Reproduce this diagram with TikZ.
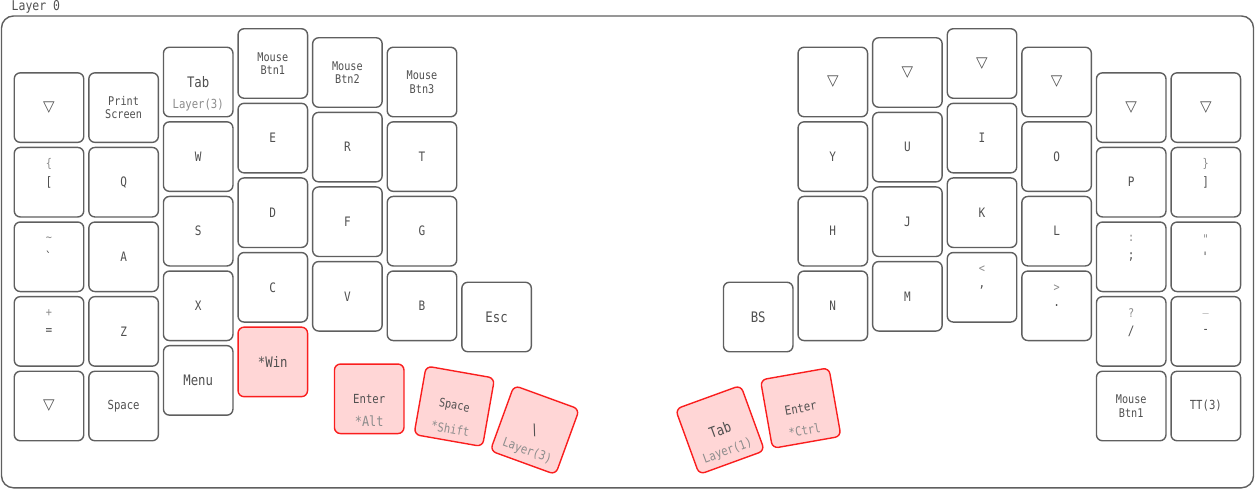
\documentclass[tikz,border=0pt]{standalone}
\usepackage{fontspec}
\setmonofont[FakeStretch=0.85]{DejaVu Sans Mono}
\newfontfamily\trifont{DejaVu Sans}
\usetikzlibrary{positioning}
\usetikzlibrary{calc}

\definecolor{keyline}{RGB}{95,95,95}
\definecolor{tapcol}{RGB}{80,80,80}
\definecolor{legcol}{RGB}{140,140,140}
\definecolor{heldline}{RGB}{250,30,30}
\definecolor{heldfill}{RGB}{255,214,214}

\newcommand{\kfont}[1]{\ttfamily\fontsize{#1}{13.5pt}\selectfont}
\newcommand{\tdown}{{\trifont\fontsize{15pt}{15pt}\selectfont\char"25BD}}

\begin{document}
\begin{tikzpicture}[x=1pt,y=-1pt,node distance=74.6pt,
      key/.style={draw=keyline,fill=white,line width=1.4pt,rounded corners=6pt,minimum size=69.5pt,inner sep=0pt,text=tapcol,align=center,font=\kfont{13}},
      held/.style={key,draw=heldline,fill=heldfill},
      big/.style={font=\kfont{14.5}},
      five/.style={font=\kfont{12.5}},
      two/.style={font=\kfont{12}},
      legend/.style={text=legcol,inner sep=0pt,font=\kfont{12}},
      holdtxt/.style={legend,font=\kfont{12.5}}]
  \useasboundingbox (0,0) rectangle (1255,489);
  \draw[keyline,line width=1.4pt,rounded corners=12pt] (1.5,16) rectangle (1253.5,487.8);
  \node[anchor=base west,inner sep=0pt,text=tapcol,font=\kfont{13.5}] (title) at (11.5,11) {Layer 0};

  % left hand
  \node[key]      (tri_l1) at (49,107.6)   {\tdown};
  \node[key]      (k_lbrc) [below of=tri_l1] {[};
  \node[key]      (k_grv)  [below of=k_lbrc] {\textasciigrave};
  \node[key]      (k_eql)  [below of=k_grv]  {=};
  \node[key]      (tri_l2) [below of=k_eql]  {\tdown};

  \node[key,two]  (k_pscr) at (123.6,107.6) {Print\\Screen};
  \node[key]      (k_q)    [below of=k_pscr] {Q};
  \node[key]      (k_a)    [below of=k_q]    {A};
  \node[key]      (k_z)    [below of=k_a]    {Z};
  \node[key,five] (k_spc)  [below of=k_z]    {Space};

  \node[key,big]  (k_tab)  at (198.2,82)   {Tab};
  \node[key]      (k_w)    [below of=k_tab]  {W};
  \node[key]      (k_s)    [below of=k_w]    {S};
  \node[key]      (k_x)    [below of=k_s]    {X};
  \node[key,big]  (k_menu) [below of=k_x]    {Menu};

  \node[key,two]  (k_btn1) at (272.8,63.5) {Mouse\\Btn1};
  \node[key]      (k_e)    [below of=k_btn1] {E};
  \node[key]      (k_d)    [below of=k_e]    {D};
  \node[key]      (k_c)    [below of=k_d]    {C};
  \node[held,big] (k_win)  [below of=k_c]    {*Win};

  \node[key,two]  (k_btn2) at (347.4,72.5) {Mouse\\Btn2};
  \node[key]      (k_r)    [below of=k_btn2] {R};
  \node[key]      (k_f)    [below of=k_r]    {F};
  \node[key]      (k_v)    [below of=k_f]    {V};

  \node[key,two]  (k_btn3) at (422,82)     {Mouse\\Btn3};
  \node[key]      (k_t)    [below of=k_btn3] {T};
  \node[key]      (k_g)    [below of=k_t]    {G};
  \node[key]      (k_b)    [below of=k_g]    {B};

  \node[key,big]  (k_esc)  at (496.6,317)  {Esc};

  % left thumbs
  \node[held,five]           (k_ent)  at (369.2,398.8) {Enter};
  \node[held,two,rotate=-10] (k_sp2)  at (454.3,406.3) {Space};
  \node[held,big,rotate=-20] (k_bsl)  at (534.8,430)   {\textbackslash};

  % right thumbs
  \node[held,big,rotate=20]  (k_tab2) at (720,429.9)   {Tab};
  \node[held,five,rotate=10] (k_ent2) at (800.7,408.1) {Enter};

  % right hand
  \node[key,big]  (k_bs)   at (758.2,317)  {BS};

  \node[key]      (tri_r1) at (832.8,82)   {\tdown};
  \node[key]      (k_y)    [below of=tri_r1] {Y};
  \node[key]      (k_h)    [below of=k_y]    {H};
  \node[key]      (k_n)    [below of=k_h]    {N};

  \node[key]      (tri_r2) at (907.4,72.5) {\tdown};
  \node[key]      (k_u)    [below of=tri_r2] {U};
  \node[key]      (k_j)    [below of=k_u]    {J};
  \node[key]      (k_m)    [below of=k_j]    {M};

  \node[key]      (tri_r3) at (982,63.5)   {\tdown};
  \node[key]      (k_i)    [below of=tri_r3] {I};
  \node[key]      (k_k)    [below of=k_i]    {K};
  \node[key]      (k_comm) [below of=k_k]    {,};

  \node[key]      (tri_r4) at (1056.6,82)  {\tdown};
  \node[key]      (k_o)    [below of=tri_r4] {O};
  \node[key]      (k_l)    [below of=k_o]    {L};
  \node[key]      (k_dot)  [below of=k_l]    {.};

  \node[key]      (tri_r5) at (1131.2,107.6) {\tdown};
  \node[key]      (k_p)    [below of=tri_r5] {P};
  \node[key]      (k_scln) [below of=k_p]    {;};
  \node[key]      (k_slsh) [below of=k_scln] {/};
  \node[key,two]  (k_rbtn) [below of=k_slsh] {Mouse\\Btn1};

  \node[key]      (tri_r6) at (1205.8,107.6) {\tdown};
  \node[key]      (k_rbrc) [below of=tri_r6] {]};
  \node[key]      (k_quot) [below of=k_rbrc] {\textquotesingle};
  \node[key]      (k_mins) [below of=k_quot] {-};
  \node[key,five] (k_tt)   [below of=k_mins] {TT(3)};

  % shifted legends
  \node[legend] (s_lbrc) at ([yshift=18pt]k_lbrc.center) {\{};
  \node[legend] (s_grv)  at ([yshift=18pt]k_grv.center)  {\textasciitilde};
  \node[legend] (s_eql)  at ([yshift=18pt]k_eql.center)  {+};
  \node[legend] (s_comm) at ([yshift=18pt]k_comm.center) {<};
  \node[legend] (s_dot)  at ([yshift=18pt]k_dot.center)  {>};
  \node[legend] (s_scln) at ([yshift=18pt]k_scln.center) {:};
  \node[legend] (s_slsh) at ([yshift=18pt]k_slsh.center) {?};
  \node[legend] (s_rbrc) at ([yshift=18pt]k_rbrc.center) {\}};
  \node[legend] (s_quot) at ([yshift=18pt]k_quot.center) {"};
  \node[legend] (s_mins) at ([yshift=18pt]k_mins.center) {\_};

  % hold legends
  \node[holdtxt]                   (h_tab)  at ([yshift=-23pt]k_tab.center) {Layer(3)};
  \node[holdtxt,font=\kfont{14}]   (h_ent)  at ($(k_ent.center)!0.64!(k_ent.south)$)   {*Alt};
  \node[holdtxt,rotate=-10]        (h_sp2)  at ($(k_sp2.center)!0.64!(k_sp2.south)$)   {*Shift};
  \node[holdtxt,rotate=-20]        (h_bsl)  at ($(k_bsl.center)!0.64!(k_bsl.south)$)   {Layer(3)};
  \node[holdtxt,rotate=20]         (h_tab2) at ($(k_tab2.center)!0.64!(k_tab2.south)$) {Layer(1)};
  \node[holdtxt,rotate=10]         (h_ent2) at ($(k_ent2.center)!0.64!(k_ent2.south)$) {*Ctrl};
\end{tikzpicture}
\end{document}
